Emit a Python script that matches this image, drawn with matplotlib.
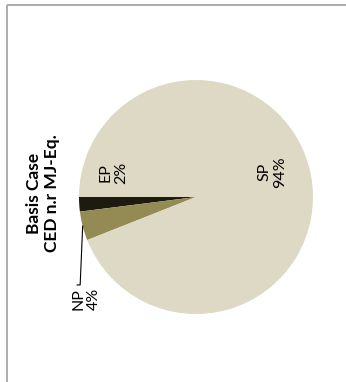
#!/usr/bin/env python3
"""
Pie chart of the non-renewable cumulative energy demand, basis case.
"""
import matplotlib
matplotlib.use("Agg")
import matplotlib.pyplot as plt
import numpy as np
from matplotlib.lines import Line2D

names = ["EP", "NP", "SP"]
shares = [2, 4, 94]
colors = ["#1d1b10", "#948a54", "#ddd9c4"]
title = "Basis Case\nCED n.r MJ-Eq."

# label placement relative to each wedge's mid angle: (angle offset in deg, radius)
label_layout = {"EP": (-19.8, 0.734), "NP": (28.4, 1.28), "SP": (7.3, 0.688)}


def main() -> None:
    plt.rcParams["font.family"] = ["Lato", "DejaVu Sans"]

    fig = plt.figure(figsize=(3.46, 3.82), dpi=100)
    W, H = 346, 382

    # chart frame, open to the right and bottom
    border = dict(color="#a6a6a6", linewidth=1.3, solid_capstyle="butt")
    fig.add_artist(Line2D([7 / W, 7 / W], [1 - 5 / H, -0.05], transform=fig.transFigure, **border))
    fig.add_artist(Line2D([7 / W, 1.05], [1 - 5 / H, 1 - 5 / H], transform=fig.transFigure, **border))

    cx, cy, r = 196, 197, 117
    ax = fig.add_axes([(cx - r) / W, (H - cy - r) / H, 2 * r / W, 2 * r / H])
    wedges, _ = ax.pie(shares, colors=colors, startangle=180, counterclock=True,
                       wedgeprops=dict(linewidth=0))
    ax.set_xlim(-1, 1)
    ax.set_ylim(-1, 1)
    ax.set_aspect("equal")
    ax.axis("off")

    for w, name, val in zip(wedges, names, shares):
        mid = np.deg2rad((w.theta1 + w.theta2) / 2)
        off, rad = label_layout[name]
        ang = mid + np.deg2rad(off)
        lx, ly = rad * np.cos(ang), rad * np.sin(ang)
        ax.text(lx, ly, f"{name}\n{val}%", rotation=90, ha="center", va="center",
                multialignment="center", fontsize=11.5, color="black", linespacing=1.15)
        if name == "NP":
            # leader line from the wedge rim to the label
            ex, ey = lx - 0.051, ly + 0.118
            ax.plot([np.cos(mid), ex, ex - 0.026], [np.sin(mid), ey, ey],
                    color="black", linewidth=0.8, clip_on=False)

    fig.text(43 / W, 1 - 193 / H, title, rotation=90, ha="center", va="center",
             multialignment="center", fontsize=12.5, fontweight="bold", linespacing=1.2)

    fig.savefig("out.png", dpi=100)
    plt.close(fig)


if __name__ == "__main__":
    main()
